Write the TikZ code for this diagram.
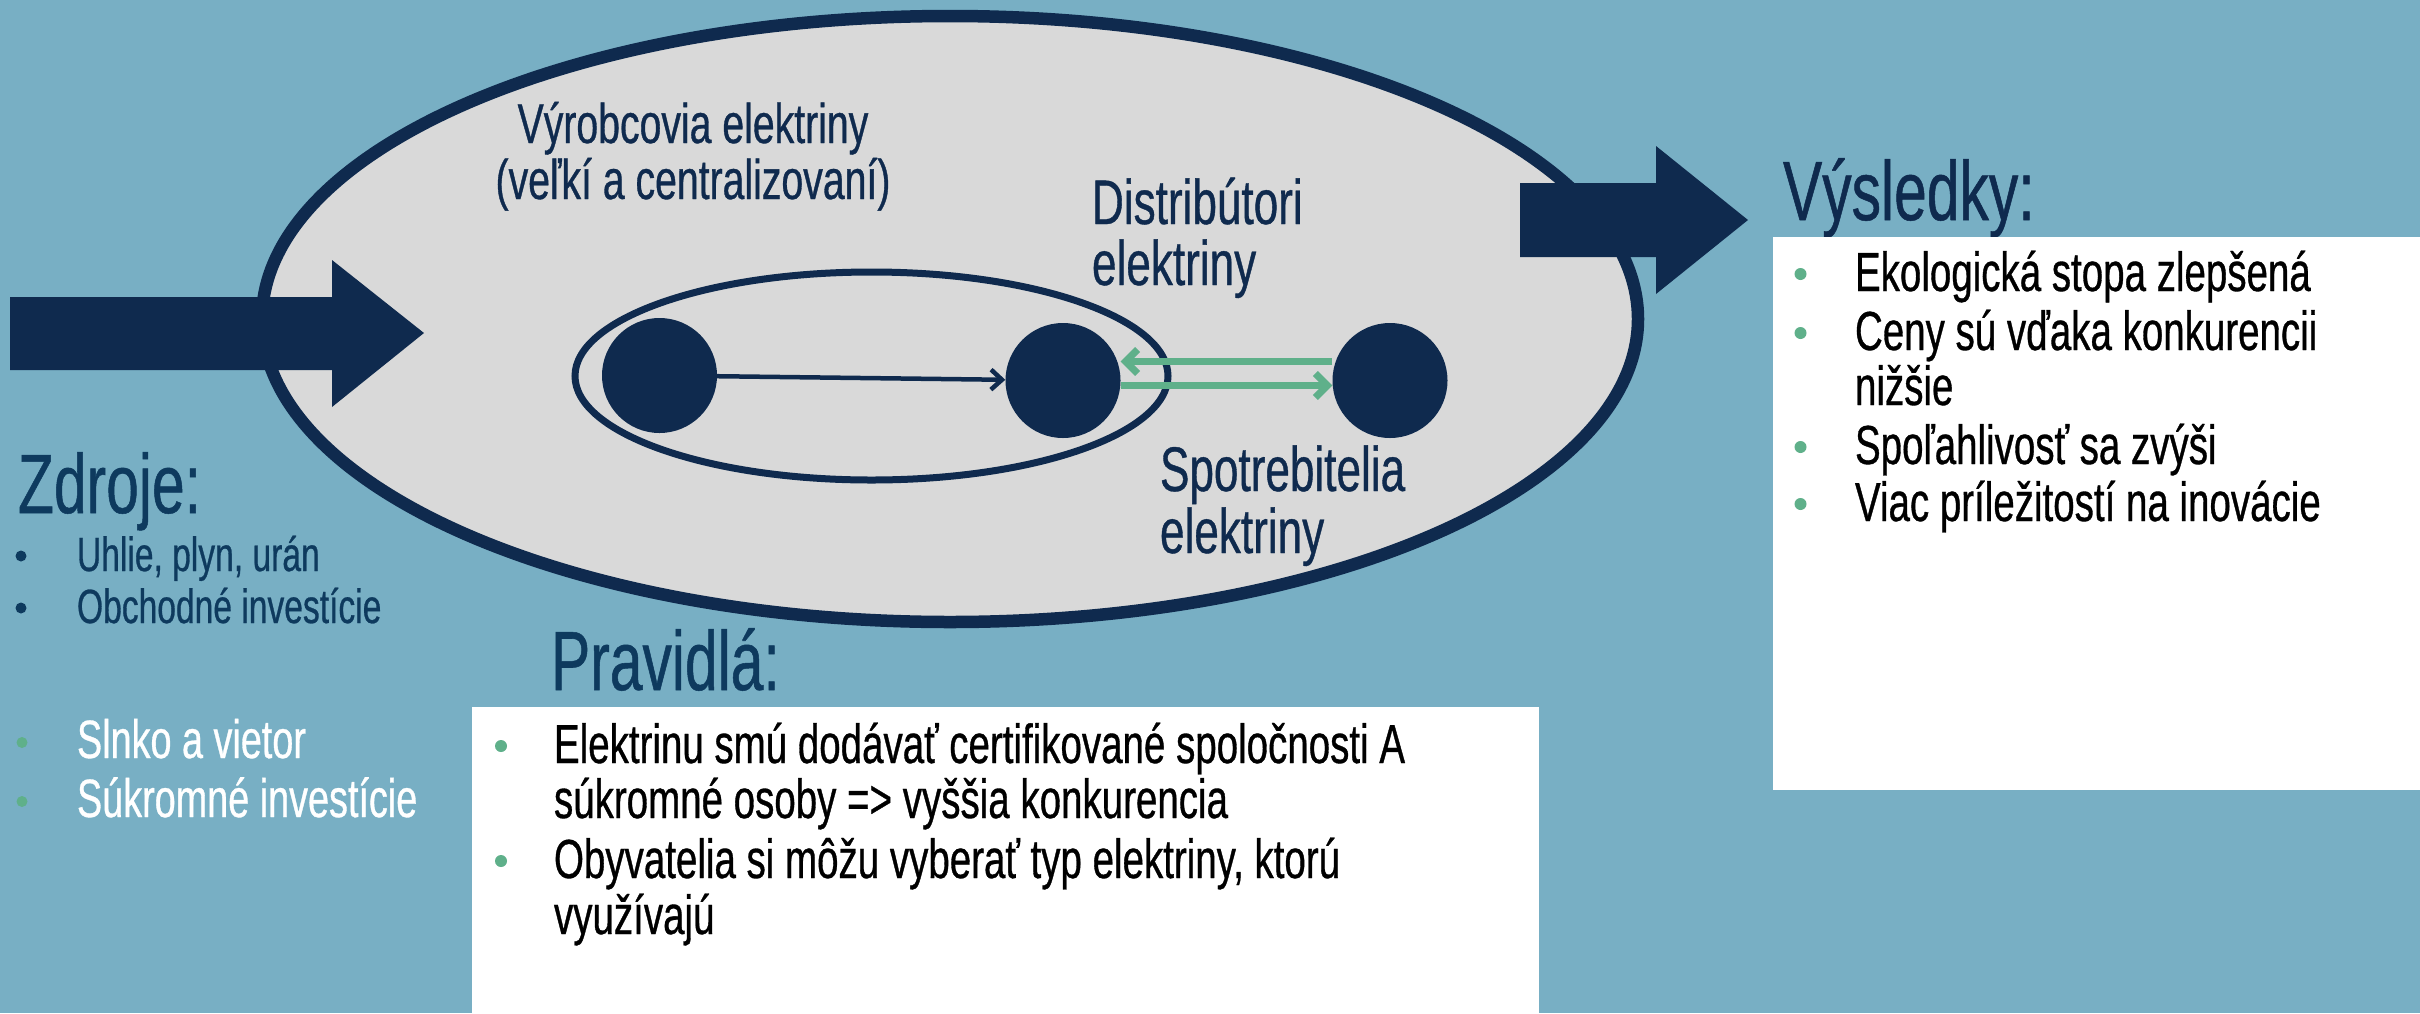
\documentclass[tikz,border=0pt]{standalone}
\usepackage{fontspec}
\setmainfont{Liberation Sans}[FakeStretch=0.70,FakeBold=0.6]
\usetikzlibrary{shapes.geometric,arrows.meta}
\definecolor{bg}{HTML}{78AFC4}
\definecolor{navy}{HTML}{0F2A4E}
\definecolor{tblue}{HTML}{0E3A5E}
\definecolor{lgray}{HTML}{D9D9D9}
\definecolor{grn}{HTML}{5FB08A}
\newcommand\fsz[1]{\fontsize{#1}{#1}\selectfont}
\begin{document}
\begin{tikzpicture}[x=1pt,y=-1pt,
  txt/.style={inner sep=0pt, outer sep=0pt, anchor=base west},
  dot/.style={circle, fill=#1, inner sep=0pt, minimum size=12pt},
  disc/.style={circle, fill=navy, inner sep=0pt, minimum size=115pt},
  garrow/.style={grn, line width=7pt, -{Straight Barb[length=12pt,width=24pt]}},
  narrow/.style={navy, line width=4.5pt, -{Straight Barb[length=11pt,width=20pt]}}]
\useasboundingbox (0,0) rectangle (2420,1013);
\fill[bg] (0,0) rectangle (2420,1013);

% ellipses
\node[ellipse, draw=navy, line width=12.5pt, fill=lgray, inner sep=0pt,
      minimum width=1376pt, minimum height=606pt] (outer) at (950,319) {};
\node[ellipse, draw=navy, line width=7pt, inner sep=0pt,
      minimum width=593pt, minimum height=208pt] (inner) at (871.5,376) {};

% discs
\node[disc] (c1) at (659.5,375.5) {};
\node[disc] (c2) at (1063,380.5) {};
\node[disc] (c3) at (1390,380.5) {};

\draw[narrow] (c1) -- (c2);
\draw[garrow] ([yshift=19pt]c3.west) -- ([yshift=19pt]c2.east);
\draw[garrow] ([yshift=-5pt]c2.east) -- ([yshift=-5pt]c3.west);

% ellipse labels
\node[txt, anchor=base, text=navy, font=\fsz{56}] (vyr1) at (693,143) {Výrobcovia elektriny};
\node[txt, anchor=base, text=navy, font=\fsz{56}] (vyr2) at (693,199) {(veľkí a centralizovaní)};
\node[txt, text=navy, font=\fsz{63}] (dis1) at (1092,224) {Distribútori};
\node[txt, text=navy, font=\fsz{63}] (dis2) at (1092,285) {elektriny};
\node[txt, text=navy, font=\fsz{63}] (spo1) at (1160,491) {Spotrebitelia};
\node[txt, text=navy, font=\fsz{63}] (spo2) at (1160,553) {elektriny};

% block arrows
\fill[navy] (10,297) -- (332,297) -- (332,260) -- (424,333) -- (332,407) -- (332,370) -- (10,370) -- cycle;
\fill[navy] (1520,183) -- (1656,183) -- (1656,146) -- (1748,220) -- (1656,294) -- (1656,257) -- (1520,257) -- cycle;

% Zdroje
\node[txt, text=tblue, font=\fsz{84}] (zdr) at (18,513) {Zdroje:};
\node[dot=tblue, minimum size=11pt] (zb1) at (21,556) {};
\node[dot=tblue, minimum size=11pt] (zb2) at (21,608) {};
\node[txt, text=tblue, font=\fsz{48}] (z1) at (77,571) {Uhlie, plyn, urán};
\node[txt, text=tblue, font=\fsz{48}] (z2) at (77,623) {Obchodné investície};
\node[dot=grn, minimum size=11pt] (zb3) at (22,742.5) {};
\node[dot=grn, minimum size=11pt] (zb4) at (22,801.5) {};
\node[txt, text=white, font=\fsz{54}] (z3) at (77,758) {Slnko a vietor};
\node[txt, text=white, font=\fsz{54}] (z4) at (77,817) {Súkromné investície};

% Pravidla
\node[txt, text=tblue, font=\fsz{84}] (pra) at (551,690) {Pravidlá:};
\node[fill=white, inner sep=0pt, anchor=north west, minimum width=1067pt, minimum height=310pt] (pbox) at (472,707) {};
\node[dot=grn] (pb1) at (501,746) {};
\node[dot=grn] (pb2) at (501,861) {};
\node[txt, font=\fsz{55}] (p1) at (554,763) {Elektrinu smú dodávať certifikované spoločnosti A};
\node[txt, font=\fsz{55}] (p2) at (554,818) {súkromné osoby => vyššia konkurencia};
\node[txt, font=\fsz{55}] (p3) at (554,878) {Obyvatelia si môžu vyberať typ elektriny, ktorú};
\node[txt, font=\fsz{55}] (p4) at (554,934) {využívajú};

% Vysledky
\node[txt, text=navy, font=\fsz{84}] (vys) at (1783,220) {Výsledky:};
\node[fill=white, inner sep=0pt, anchor=north west, minimum width=650pt, minimum height=553pt] (rbox) at (1773,237) {};
\node[dot=grn] (rb1) at (1800.5,274) {};
\node[dot=grn] (rb2) at (1800.5,333) {};
\node[dot=grn] (rb3) at (1800.5,447) {};
\node[dot=grn] (rb4) at (1800.5,504) {};
\node[txt, font=\fsz{55}] (r1) at (1855,291) {Ekologická stopa zlepšená};
\node[txt, font=\fsz{55}] (r2) at (1855,350) {Ceny sú vďaka konkurencii};
\node[txt, font=\fsz{55}] (r3) at (1855,405) {nižšie};
\node[txt, font=\fsz{55}] (r4) at (1855,464) {Spoľahlivosť sa zvýši};
\node[txt, font=\fsz{55}] (r5) at (1855,521) {Viac príležitostí na inovácie};
\end{tikzpicture}
\end{document}
